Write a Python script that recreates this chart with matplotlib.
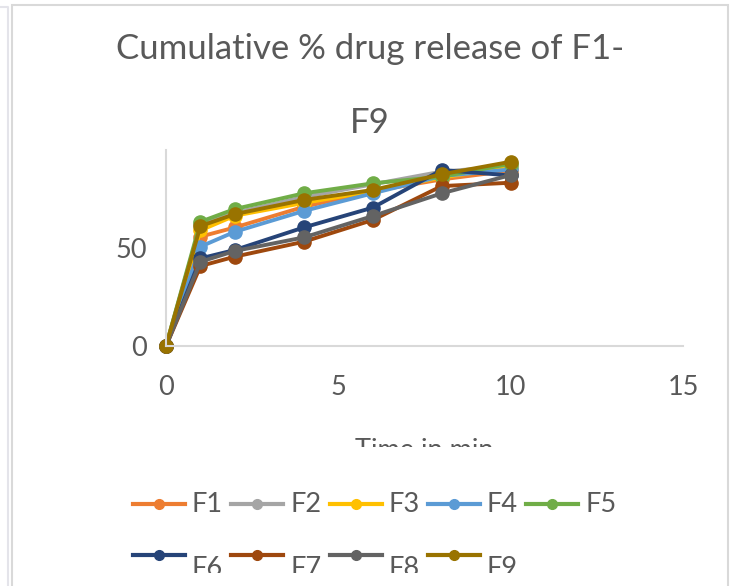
import matplotlib
matplotlib.use("Agg")
import matplotlib.pyplot as plt
from matplotlib.lines import Line2D
from matplotlib.patches import Rectangle
from matplotlib.transforms import Bbox, TransformedBbox

plt.rcParams['font.family'] = ['Lato', 'DejaVu Sans']

# ---- data ----
time_min = [0, 1, 2, 4, 6, 8, 10]
series_names = ["F1", "F2", "F3", "F4", "F5", "F6", "F7", "F8", "F9"]
F1 = [0, 55.8, 60.5, 71.0, 79.0, 85.0, 89.5]
F2 = [0, 62.0, 68.0, 76.0, 82.5, 89.0, 91.8]
F3 = [0, 59.0, 66.5, 73.0, 79.0, 86.0, 91.0]
F4 = [0, 50.7, 58.3, 68.9, 77.9, 86.7, 90.1]
F5 = [0, 63.4, 69.9, 77.9, 83.0, 86.4, 93.0]
F6 = [0, 44.7, 49.0, 60.5, 70.6, 89.8, 87.0]
F7 = [0, 40.8, 45.6, 53.2, 64.3, 81.6, 83.3]
F8 = [0, 43.0, 48.5, 55.4, 66.3, 77.9, 87.2]
F9 = [0, 61.2, 67.3, 74.5, 79.6, 87.6, 94.0]
series_values = [F1, F2, F3, F4, F5, F6, F7, F8, F9]
colors = ["#ED7D31", "#A5A5A5", "#FFC000", "#5B9BD5", "#70AD47",
          "#264478", "#9E480E", "#636363", "#997300"]
x_ticks = [0, 5, 10, 15]
y_ticks = [0, 50]
title = "Cumulative % drug release of F1-\nF9"
x_label = "Time in min"

W, H = 732, 586
fig = plt.figure(figsize=(W / 100, H / 100), dpi=100)
fig.patch.set_facecolor("white")

def fx(px):
    return px / W

def fy(py):
    return 1 - py / H

# chart frame(s)
frame_col = "#D9D9D9"
fig.add_artist(Rectangle((fx(12), fy(600)), fx(728) - fx(12), fy(5) - fy(600),
                         transform=fig.transFigure, fill=False,
                         edgecolor=frame_col, lw=1.5))
fig.add_artist(Line2D([fx(0), fx(8), fx(8)], [fy(7), fy(7), fy(600)],
                      transform=fig.transFigure, color="#E4E4EA", lw=1.5))

ax = fig.add_axes([fx(166), fy(346), fx(683) - fx(166), fy(150) - fy(346)])
for name, vals, c in zip(series_names, series_values, colors):
    ax.plot(time_min, vals, color=c, lw=2.8, marker="o", ms=9.5,
            markeredgecolor=c, label=name, clip_on=False, solid_capstyle="round")

ax.set_xlim(0, 15)
ax.set_ylim(0, 100)
ax.set_xticks(x_ticks)
ax.set_yticks(y_ticks)
for s in ["top", "right"]:
    ax.spines[s].set_visible(False)
for s in ["left", "bottom"]:
    ax.spines[s].set_color(frame_col)
    ax.spines[s].set_linewidth(1.5)
ax.tick_params(axis="both", length=0, labelsize=19.5, labelcolor="#595959")
ax.tick_params(axis="x", pad=21)
ax.tick_params(axis="y", pad=14)

fig.text(fx(370), fy(86), title, ha="center", va="center", fontsize=25,
         color="#595959", linespacing=2.6)

xl = fig.text(fx(424), fy(438), x_label, ha="center", va="top",
              fontsize=19.5, color="#595959")
xl.set_clip_box(TransformedBbox(Bbox.from_extents(0, fy(447), 1, 1), fig.transFigure))
xl.set_clip_on(True)

# legend (manual, Excel-like wrapping)
leg_clip = TransformedBbox(Bbox.from_extents(0, fy(573), 1, 1), fig.transFigure)
for i, (name, c) in enumerate(zip(series_names, colors)):
    row, col = divmod(i, 5)
    x0 = 133 + col * 98.3
    yl = 504 + row * 51
    fig.add_artist(Line2D([fx(x0), fx(x0 + 26), fx(x0 + 52)], [fy(yl)] * 3,
                          transform=fig.transFigure, color=c, lw=3,
                          marker="o", ms=7, markevery=[1]))
    ty = yl if row == 0 else yl + 14
    t = fig.text(fx(x0 + 59), fy(ty), name, ha="left", va="center",
                 fontsize=19.5, color="#595959")
    t.set_clip_box(leg_clip)
    t.set_clip_on(True)

fig.savefig("out.png", dpi=100, facecolor="white")
